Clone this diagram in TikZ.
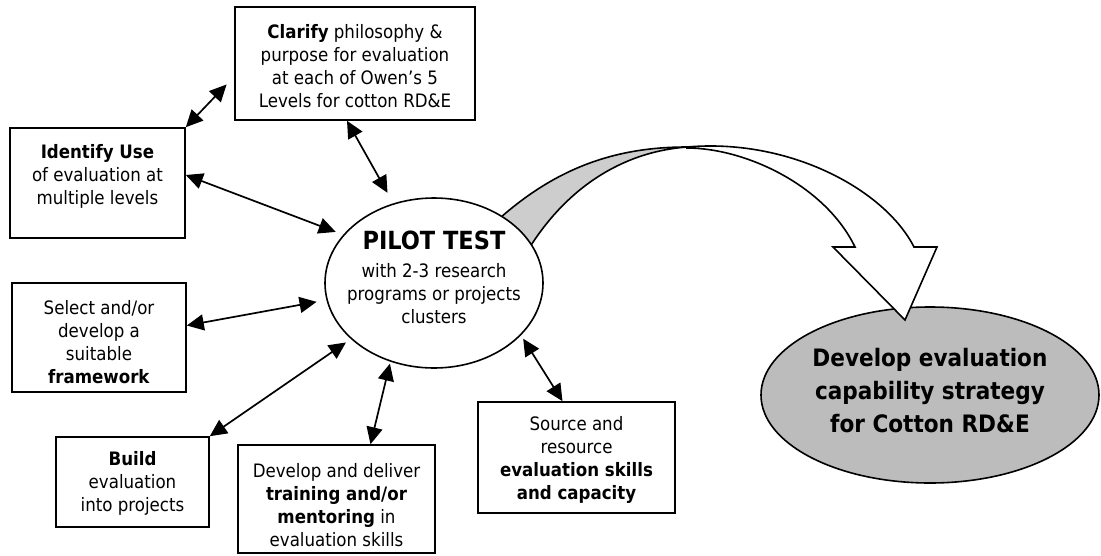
\documentclass[tikz,border=0pt]{standalone}
\usepackage{fontspec}
\setmainfont{DejaVu Sans Condensed}
\usetikzlibrary{arrows.meta,calc,shapes.geometric}

\definecolor{ovalgray}{RGB}{188,188,188}
\definecolor{bandgray}{RGB}{205,205,205}

\tikzset{
  box/.style={draw, line width=1.6pt, fill=white, inner sep=0pt},
  txt/.style={align=center, inner sep=0pt, font=\fontsize{18.5}{23}\selectfont},
  bigtxt/.style={align=center, inner sep=0pt, font=\fontsize{24}{33}\selectfont\bfseries},
  link/.style={<->, >={Triangle[length=17pt,width=16pt]}, line width=1.7pt},
  outline/.style={line width=1.6pt, line join=miter},
}

\begin{document}
\begin{tikzpicture}[x=1pt, y=-1pt]
\useasboundingbox (0,0) rectangle (1101,555);
\fill[white] (0,0) rectangle (1101,555);

% back face of the curved arrow (shaded part)
\filldraw[outline, fill=bandgray]
  (500,218) .. controls (560,165) and (620,147) .. (687,147)
  .. controls (620,152) and (565,190) .. (528,250) -- cycle;

% central ellipse
\node[ellipse, draw, line width=1.6pt, fill=white, minimum width=218pt, minimum height=170pt, inner sep=0pt] (pilot) at (434,283) {};
\node[inner sep=0pt, font=\fontsize{25}{28}\selectfont\bfseries] (pilottitle) at (434,240) {PILOT TEST};
\node[txt] (pilottext) at (434,294) {with 2-3 research\\programs or projects\\clusters};

% outcome ellipse
\node[ellipse, draw, line width=1.6pt, fill=ovalgray, minimum width=338pt, minimum height=176pt, inner sep=0pt] (develop) at (930,395) {};
\node[bigtxt] (developtext) at ($(develop.center)+(0,-4)$) {Develop evaluation\\capability strategy\\for Cotton RD\&E};

% front face of the curved arrow with its head
\filldraw[outline, fill=white]
  (687,147) .. controls (790,138) and (885,190) .. (914,247)
  -- (937,247) -- (905,320) -- (833,247) -- (855,247)
  .. controls (825,185) and (745,148) .. (687,148) -- cycle;

% surrounding boxes
\node[box, minimum width=240pt, minimum height=113pt] (clarify) at (355,63.5) {};
\node[txt] (clarifytext) at (355,66) {\textbf{Clarify} philosophy \&\\purpose for evaluation\\at each of Owen’s 5\\Levels for cotton RD\&E};

\node[box, minimum width=175pt, minimum height=110pt] (identify) at (97.5,183) {};
\node[txt] (identifytext) at (97.5,176) {\textbf{Identify Use}\\of evaluation at\\multiple levels};

\node[box, minimum width=174pt, minimum height=109pt] (select) at (99,337.5) {};
\node[txt] (selecttext) at (99,342) {Select and/or\\develop a\\suitable\\\textbf{framework}};

\node[box, minimum width=153pt, minimum height=90pt] (build) at (132.5,482) {};
\node[txt] (buildtext) at (132.5,483) {\textbf{Build}\\evaluation\\into projects};

\node[box, minimum width=197pt, minimum height=108pt] (deliver) at (336.5,499) {};
\node[txt] (delivertext) at (336.5,505) {Develop and deliver\\\textbf{training and/or}\\\textbf{mentoring} in\\evaluation skills};

\node[box, minimum width=197pt, minimum height=111pt] (source) at (576.5,457.5) {};
\node[txt] (sourcetext) at (576.5,460) {Source and\\resource\\\textbf{evaluation skills}\\\textbf{and capacity}};

% connectors
\draw[link, shorten >=11pt] (identify.north east) -- ([yshift=-13pt]clarify.west);
\draw[link, shorten >=12pt] ([xshift=-8pt]clarify.south) -- (pilot.117);
\draw[link, shorten >=8pt] ([yshift=8pt]identify.east) -- (pilot.152);
\draw[link, shorten >=10pt] ([yshift=12pt]select.east) -- (pilot.189);
\draw[link, shorten >=6pt] (build.north east) -- (pilot.214);
\draw[link, shorten >=2pt] ([xshift=34pt]deliver.north) -- (pilot.241);
\draw[link, shorten >=4pt] ([xshift=-14pt]source.north) -- (pilot.329);
\end{tikzpicture}
\end{document}
